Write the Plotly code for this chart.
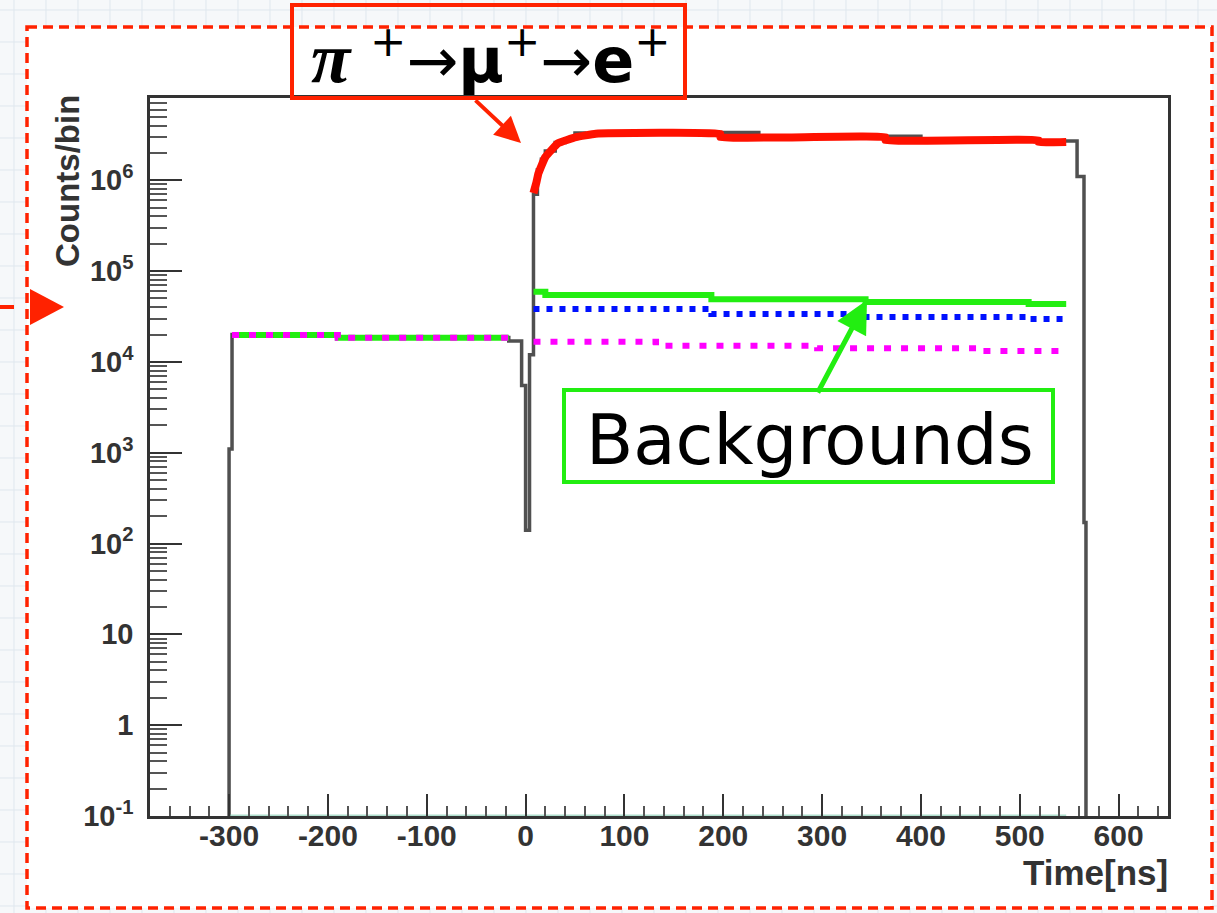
import numpy as np
import plotly.graph_objects as go

# ---------------- data ----------------
# total (black) histogram: bin edges [ns] and contents [counts/bin]
total_edges = [-300, -297, -190, -17, -4, 0, 4, 8, 12, 16, 20, 30, 40, 50, 60, 80, 88,
               200, 236, 364, 400, 519, 558, 565, 567]
total_vals = [1.1e3, 2.0e4, 1.85e4, 1.7e4, 5.5e3, 140, 1.2e4, 7.0e5, 1.3e6, 1.7e6, 2.1e6,
              2.6e6, 2.85e6, 3.3e6, 3.15e6, 3.4e6, 3.2e6, 3.35e6, 2.95e6, 3.05e6, 2.75e6,
              2.7e6, 1.1e6, 170]

# pi+ -> mu+ -> e+ fit (red)
fit_t = [8, 11, 13, 20, 33, 51, 71, 197, 197, 364, 364, 519, 519, 547]
fit_v = [7.2e5, 9.5e5, 1.19e6, 1.8e6, 2.56e6, 2.98e6, 3.25e6, 3.25e6, 2.98e6, 2.98e6,
         2.76e6, 2.76e6, 2.63e6, 2.63e6]

# backgrounds before t=0
pre_edges = [-297, -190, -17]
green_pre = [1.98e4, 1.84e4]
magenta_pre = [1.98e4, 1.84e4]

# backgrounds after t=0
green_edges = [8, 20, 188, 344, 509, 547]
green_post = [5.9e4, 5.45e4, 4.9e4, 4.56e4, 4.34e4]
blue_edges = [8, 188, 344, 509, 547]
blue_post = [3.82e4, 3.37e4, 3.12e4, 2.97e4]
magenta_edges = [8, 132, 295, 457, 547]
magenta_post = [1.66e4, 1.5e4, 1.41e4, 1.32e4]

# empty histograms lying on the floor of the plot
floor_t = [-300, 547]
floor_v = [0.1, 0.1]

x_tick_vals = [-300, -200, -100, 0, 100, 200, 300, 400, 500, 600]
x_tick_text = ["-300", "-200", "-100", "0", "100", "200", "300", "400", "500", "600"]
y_tick_vals = [0.1, 1, 10, 1e2, 1e3, 1e4, 1e5, 1e6]
y_tick_text = ["10<sup>-1</sup>", "1", "10", "10<sup>2</sup>", "10<sup>3</sup>",
               "10<sup>4</sup>", "10<sup>5</sup>", "10<sup>6</sup>"]


def steps(edges, vals):
    return list(edges), list(vals) + [vals[-1]]


def joined(*segs):
    xs, ys = [], []
    for i, (e, v) in enumerate(segs):
        x, y = steps(e, v)
        if i:
            xs.append(None)
            ys.append(None)
        xs += x
        ys += y
    return xs, ys


# ---------------- layout geometry ----------------
W_PX, H_PX = 1217, 913
L, R, T, B = 150, 1168, 98, 816


def px(x):
    return (x - L) / (R - L)


def py(y):
    return (B - y) / (B - T)


RED = "#ff2200"
GREEN = "#22ee11"

fig = go.Figure()

# black total histogram
tx = [total_edges[0]] + total_edges[:-1] + [total_edges[-1]]
ty = [0.1] + total_vals + [0.1]
fig.add_trace(go.Scatter(x=tx, y=ty, mode="lines", line=dict(color="#505050", width=3.5, shape="hv"),
                         hoverinfo="skip", showlegend=False))

# floor line
fig.add_trace(go.Scatter(x=floor_t, y=floor_v, mode="lines",
                         line=dict(color="rgba(120,200,170,0.6)", width=3),
                         hoverinfo="skip", showlegend=False))

# green background
gx, gy = joined((pre_edges, green_pre), (green_edges, green_post))
fig.add_trace(go.Scatter(x=gx, y=gy, mode="lines", connectgaps=False,
                         line=dict(color=GREEN, width=6, shape="hv"),
                         hoverinfo="skip", showlegend=False))
# blue background
bx, by = steps(blue_edges, blue_post)
fig.add_trace(go.Scatter(x=bx, y=by, mode="lines",
                         line=dict(color="#0011ff", width=6, shape="hv", dash="6px,7px"),
                         hoverinfo="skip", showlegend=False))
# magenta background
mx, my = joined((pre_edges, magenta_pre), (magenta_edges, magenta_post))
fig.add_trace(go.Scatter(x=mx, y=my, mode="lines", connectgaps=False,
                         line=dict(color="#ff00ff", width=6, shape="hv", dash="7px,10px"),
                         hoverinfo="skip", showlegend=False))
# red fit
fig.add_trace(go.Scatter(x=fit_t, y=fit_v, mode="lines",
                         line=dict(color="#ff1100", width=8, shape="spline", smoothing=0.3),
                         hoverinfo="skip", showlegend=False))

# ---------------- decorations ----------------
shapes = []
# graph-paper background around the frame
shapes.append(dict(type="rect", xref="paper", yref="paper", x0=px(0), x1=px(W_PX), y0=py(0), y1=py(H_PX),
                   fillcolor="#f6f8fa", line=dict(width=0), layer="below"))
for gxp in range(14, W_PX, 32):
    shapes.append(dict(type="line", xref="paper", yref="paper", x0=px(gxp), x1=px(gxp), y0=py(0), y1=py(H_PX),
                       line=dict(color="#dfe7ee", width=1), layer="below"))
for gyp in range(10, H_PX, 32):
    shapes.append(dict(type="line", xref="paper", yref="paper", x0=px(0), x1=px(W_PX), y0=py(gyp), y1=py(gyp),
                       line=dict(color="#dfe7ee", width=1), layer="below"))
shapes.append(dict(type="rect", xref="paper", yref="paper", x0=px(27), x1=px(1212), y0=py(27), y1=py(908),
                   fillcolor="white", line=dict(width=0), layer="below"))
# red dashed outer frame
shapes.append(dict(type="rect", xref="paper", yref="paper", x0=px(27), x1=px(1212), y0=py(27), y1=py(908),
                   line=dict(color=RED, width=3.5, dash="10px,6px"), layer="above"))
# left pointer
shapes.append(dict(type="line", xref="paper", yref="paper", x0=px(0), x1=px(14), y0=py(307), y1=py(307),
                   line=dict(color=RED, width=4)))
shapes.append(dict(type="path", xref="paper", yref="paper",
                   path=f"M {px(30)} {py(289)} L {px(64)} {py(307)} L {px(30)} {py(325)} Z",
                   fillcolor=RED, line=dict(width=0)))
# label boxes
shapes.append(dict(type="rect", xref="paper", yref="paper", x0=px(292), x1=px(685), y0=py(5), y1=py(98),
                   line=dict(color=RED, width=4)))
shapes.append(dict(type="rect", xref="paper", yref="paper", x0=px(564), x1=px(1053), y0=py(390), y1=py(482),
                   fillcolor="white", line=dict(color=GREEN, width=4)))

annotations = [
    dict(xref="paper", yref="paper", x=px(491), y=py(57), xanchor="center", yanchor="middle",
         showarrow=False,
         text="<span style='font-family:Liberation Serif;font-size:72px'><b><i>π</i></b></span> <sup>+</sup>→<b>μ</b><sup>+</sup>→<b>e</b><sup>+</sup>",
         font=dict(family="DejaVu Sans", size=62, color="black")),
    dict(xref="paper", yref="paper", x=px(810), y=py(440), xanchor="center", yanchor="middle",
         showarrow=False, text="Backgrounds",
         font=dict(family="DejaVu Sans", size=69, color="black")),
    dict(xref="paper", yref="paper", x=px(521), y=py(143), ax=-47, ay=-44, showarrow=True,
         arrowhead=2, arrowsize=1.3, arrowwidth=4, arrowcolor=RED, standoff=0, text=""),
    dict(xref="paper", yref="paper", x=px(867), y=py(300), ax=-50, ay=94, showarrow=True,
         arrowhead=2, arrowsize=1.3, arrowwidth=5, arrowcolor=GREEN, standoff=0, text=""),
    dict(xref="paper", yref="paper", x=px(67), y=py(93), xanchor="center", yanchor="top",
         textangle=-90, showarrow=False, text="Counts/bin",
         font=dict(family="Liberation Sans", size=33, color="#333333", weight="bold")),
    dict(xref="paper", yref="paper", x=px(1170), y=py(851), xanchor="right", yanchor="top",
         showarrow=False, text="Time[ns]",
         font=dict(family="Liberation Sans", size=35, color="#333333", weight="bold")),
]

y_minor = [m * 10.0 ** d for d in range(-1, 7) for m in range(2, 10) if m * 10.0 ** d < 10 ** 6.9]

fig.update_layout(
    width=W_PX, height=H_PX,
    margin=dict(l=L, r=W_PX - R, t=T, b=H_PX - B),
    paper_bgcolor="white", plot_bgcolor="white",
    shapes=shapes, annotations=annotations,
    xaxis=dict(range=[-380, 650], showgrid=False, zeroline=False,
               showline=True, mirror=True, linecolor="#333333", linewidth=2.5,
               ticks="inside", ticklen=22, tickwidth=2, tickcolor="#333333",
               tickmode="array", tickvals=x_tick_vals, ticktext=x_tick_text,
               ticklabelstandoff=-9,
               tickfont=dict(family="Liberation Sans", size=30, color="#333333", weight="bold"),
               minor=dict(ticks="inside", ticklen=10, tickwidth=2, tickcolor="#555555", dtick=20,
                          showgrid=False)),
    yaxis=dict(type="log", range=[-1, 6.905], showgrid=False, zeroline=False,
               showline=True, mirror=True, linecolor="#333333", linewidth=2.5,
               ticks="inside", ticklen=32, tickwidth=2, tickcolor="#333333",
               tickmode="array", tickvals=y_tick_vals, ticktext=y_tick_text,
               ticklabelstandoff=8,
               tickfont=dict(family="Liberation Sans", size=29, color="#333333", weight="bold"),
               minor=dict(ticks="inside", ticklen=17, tickwidth=2, tickcolor="#555555",
                          tickmode="array", tickvals=y_minor, showgrid=False)),
)

fig.write_html("out.html", config={"displayModeBar": False},
               post_script="document.body.style.margin='0';document.body.style.overflow='hidden';")
